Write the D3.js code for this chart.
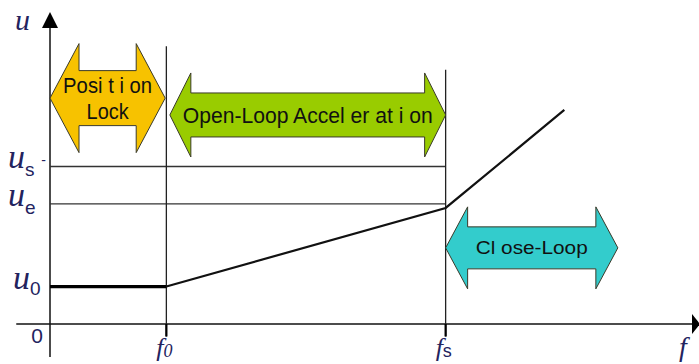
<!DOCTYPE html>
<html>
<head>
<meta charset="utf-8">
<script src="https://cdn.jsdelivr.net/npm/d3@7"></script>
<style>
  body { margin: 0; background: #fff; }
  svg { display: block; }
  .lbl { font-family: "Liberation Serif", "DejaVu Serif", serif; font-style: italic; fill: #23235e; }
  .band text { font-family: "Liberation Sans", Arial, sans-serif; fill: #111; }
</style>
</head>
<body>
<div id="chart"></div>
<script>
// operating curve u(f)
var curveF = [0, 1, 3.4, 4.42];
var curveU = [1.2, 1.2, 3.72, 6.86];

// reference levels / frequencies
var uLevels = [
  { name: "u", sub: "0", v: 1.2 },
  { name: "u", sub: "e", v: 3.85 },
  { name: "u", sub: "s", v: 5.05 }
];
var fMarks = [
  { name: "f", sub: "0", v: 1.0, top: 8.9 },
  { name: "f", sub: "s", v: 3.4, top: 8.15 }
];

// region arrows
var bandNames = [["Posi t i on", "Lock"], ["Open-Loop Accel er at i on"], ["Cl ose-Loop"]];
var bandFrom = [0, 1.03, 3.4];
var bandTo = [0.99, 3.4, 4.88];
var bandMid = [7.24, 6.7, 2.44];
var bandColors = ["#f7c200", "#99cc00", "#33cccc"];

var width = 699, height = 364;
var margin = { top: 12, right: 0, bottom: 7, left: 50 };

var svg = d3.select("#chart").append("svg")
  .attr("width", width)
  .attr("height", height);

var x = d3.scaleLinear().domain([0, 5.5]).range([margin.left, 690]);
var y = d3.scaleLinear().domain([0, 10]).range([324, margin.top]);

// axes
svg.append("line")
  .attr("x1", x(-0.29)).attr("x2", 692)
  .attr("y1", y(0)).attr("y2", y(0))
  .attr("stroke", "#111").attr("stroke-width", 1.5);
svg.append("path")
  .attr("d", "M692," + (y(0) - 10) + "L700," + y(0) + "L692," + (y(0) + 10) + "Z")
  .attr("fill", "#000");

svg.append("line")
  .attr("x1", x(0)).attr("x2", x(0))
  .attr("y1", y(-1.06)).attr("y2", y(9.5))
  .attr("stroke", "#111").attr("stroke-width", 1.5);
svg.append("path")
  .attr("d", "M" + (x(0) - 8) + ",28L" + x(0) + "," + y(10) + "L" + (x(0) + 8) + ",28Z")
  .attr("fill", "#000");

// level lines
svg.selectAll(".level")
  .data(uLevels.slice(1))
  .enter().append("line")
  .attr("x1", x(0)).attr("x2", x(3.4))
  .attr("y1", d => y(d.v)).attr("y2", d => y(d.v))
  .attr("stroke", "#333").attr("stroke-width", 1.4);

// frequency markers
svg.selectAll(".fmark")
  .data(fMarks)
  .enter().append("line")
  .attr("x1", d => x(d.v)).attr("x2", d => x(d.v))
  .attr("y1", d => y(d.top)).attr("y2", y(-0.4))
  .attr("stroke", "#222").attr("stroke-width", 1.3);
svg.selectAll(".ftick")
  .data(fMarks)
  .enter().append("line")
  .attr("x1", d => x(d.v)).attr("x2", d => x(d.v))
  .attr("y1", y(0)).attr("y2", y(-0.4))
  .attr("stroke", "#000").attr("stroke-width", 2.2);

// curve
var pts = curveF.map((f, i) => [f, curveU[i]]);
svg.append("path")
  .datum(pts.slice(0, 2))
  .attr("d", d3.line().x(d => x(d[0])).y(d => y(d[1])))
  .attr("fill", "none").attr("stroke", "#000").attr("stroke-width", 3.2);
svg.append("path")
  .datum(pts.slice(1))
  .attr("d", d3.line().x(d => x(d[0])).y(d => y(d[1])))
  .attr("fill", "none").attr("stroke", "#111").attr("stroke-width", 2.2);

// double-headed region arrows
var shaftH = [27.5, 22, 21], headH = [54.5, 42, 41], headL = [29, 21, 22];
var fontSz = [22, 22, 18], textW = [[89, 42], [250], [112]];

function arrowPath(i) {
  var x0 = x(bandFrom[i]), x1 = x(bandTo[i]), cy = y(bandMid[i]);
  var s = shaftH[i], h = headH[i], l = headL[i];
  return "M" + x0 + "," + cy +
    "L" + (x0 + l) + "," + (cy - h) + "L" + (x0 + l) + "," + (cy - s) +
    "L" + (x1 - l) + "," + (cy - s) + "L" + (x1 - l) + "," + (cy - h) +
    "L" + x1 + "," + cy +
    "L" + (x1 - l) + "," + (cy + h) + "L" + (x1 - l) + "," + (cy + s) +
    "L" + (x0 + l) + "," + (cy + s) + "L" + (x0 + l) + "," + (cy + h) + "Z";
}

var bands = svg.selectAll(".band")
  .data(bandNames)
  .enter().append("g")
  .attr("class", "band");

bands.append("path")
  .attr("d", (d, i) => arrowPath(i))
  .attr("fill", (d, i) => bandColors[i])
  .attr("stroke", "#3a3a2a").attr("stroke-width", 1);

bands.each(function (lines, i) {
  var g = d3.select(this);
  var cx = (x(bandFrom[i]) + x(bandTo[i])) / 2;
  var cy = y(bandMid[i]);
  var lh = fontSz[i] * 1.15;
  lines.forEach(function (t, k) {
    var base = cy + fontSz[i] * 0.36 + (k - (lines.length - 1) / 2) * lh;
    g.append("text")
      .attr("x", cx).attr("y", base)
      .attr("text-anchor", "middle")
      .attr("font-size", fontSz[i])
      .attr("textLength", textW[i][k])
      .attr("lengthAdjust", "spacingAndGlyphs")
      .text(t);
  });
});

// labels
svg.append("text").attr("class", "lbl")
  .attr("x", 15).attr("y", 30).attr("font-size", 30).text("u");

svg.selectAll(".ulbl")
  .data(uLevels)
  .enter().append("text")
  .attr("class", "lbl")
  .attr("x", d => d.sub === "0" ? 13 : 8)
  .attr("y", d => y(d.v) + 2)
  .attr("font-size", 34)
  .each(function (d) {
    var t = d3.select(this);
    t.append("tspan").text(d.name);
    t.append("tspan")
      .attr("font-size", 19).attr("dy", d.sub === "0" ? 6 : 8)
      .attr("font-style", "normal")
      .attr("font-family", "Liberation Sans, Arial, sans-serif")
      .text(d.sub);
  });

svg.append("text")
  .attr("x", 46).attr("y", y(uLevels[2].v) - 1)
  .attr("text-anchor", "end").attr("font-size", 14)
  .attr("font-family", "Liberation Sans, Arial, sans-serif")
  .attr("fill", "#23235e").text("-");

svg.append("text")
  .attr("x", 43).attr("y", y(0) + 19)
  .attr("text-anchor", "end").attr("font-size", 21)
  .attr("font-family", "Liberation Sans, Arial, sans-serif")
  .attr("fill", "#23235e").text("0");

svg.selectAll(".flbl")
  .data(fMarks)
  .enter().append("text")
  .attr("class", "lbl")
  .attr("x", d => x(d.v) - 10)
  .attr("y", 356)
  .attr("font-size", 26)
  .each(function (d) {
    var t = d3.select(this);
    t.append("tspan").text(d.name);
    t.append("tspan")
      .attr("font-size", 18).attr("dy", 1)
      .attr("font-style", d.sub === "0" ? "italic" : "normal")
      .attr("font-family", d.sub === "0" ? null : "Liberation Sans, Arial, sans-serif")
      .text(d.sub);
  });

svg.append("text").attr("class", "lbl")
  .attr("x", 679).attr("y", 356).attr("font-size", 28).text("f");
</script>
</body>
</html>
